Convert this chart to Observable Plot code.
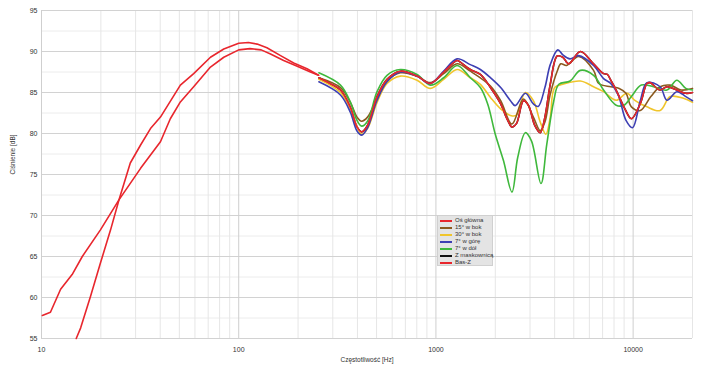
<!DOCTYPE html>
<html>
<head>
<meta charset="utf-8">
<script src="https://cdn.jsdelivr.net/npm/d3@7"></script>
<script src="https://cdn.jsdelivr.net/npm/@observablehq/plot@0.6"></script>
<style>
  html, body { margin: 0; padding: 0; background: #fff; }
  #wrap { position: relative; width: 708px; height: 372px; font-family: "Liberation Sans", Arial, sans-serif; }
  #legend { position: absolute; left: 437px; top: 215px; width: 56px; height: 51px; background: #e4e4e4; border: 1px solid #d0d0d0; box-sizing: border-box; padding: 1px 0 0 2px; }
  .row { position: relative; height: 7px; font-size: 6px; line-height: 7px; color: #333; white-space: nowrap; padding-left: 15px; }
  .sw { position: absolute; left: 0; top: 3px; width: 12px; height: 2px; }
</style>
</head>
<body>
<div id="wrap"></div>
<script>
// ---- series names & colours ----
const seriesNames = ["Oś główna", "15° w bok", "30° w bok", "7° w górę", "7° w dół", "Z maskownicą", "Bas-Z"];
const seriesColors = ["#e8262d", "#8b5a1f", "#f0c52b", "#3d3fb3", "#3fb83c", "#111111", "#e8262d"];

// ---- axis ticks ----
const xTicks = [10, 100, 1000, 10000];
const yTicks = [55, 60, 65, 70, 75, 80, 85, 90, 95];
const yMinor = [57.5, 62.5, 67.5, 72.5, 77.5, 82.5, 87.5, 92.5];
const xGridMinor = [20,30,40,50,60,70,80,90,200,300,400,500,600,700,800,900,2000,3000,4000,5000,6000,7000,8000,9000,20000];
const xGridMajor = [10, 100, 1000, 10000];

// ---- Bas-Z (low frequency, red) ----
const basF  = [10.1, 11.1, 12.5, 14.3, 16.1, 19.9, 24.7, 31.8, 40.1, 45, 50.6, 59.1, 71.9, 84, 100, 114, 130, 145, 169, 198, 231, 254];
const basDB = [57.8, 58.2, 61.0, 62.8, 65.0, 68.25, 71.9, 75.75, 79.0, 81.8, 83.85, 85.7, 88.1, 89.3, 90.2, 90.35, 90.2, 89.7, 88.9, 88.2, 87.5, 87.1];

// ---- Oś główna, low part ----
const mainLowF  = [15.0, 15.8, 17.7, 19.9, 22.4, 24.7, 28.2, 31.8, 35.7, 40.1, 50.6, 59.1, 71.9, 84, 100, 112, 124, 139, 163, 190, 222, 254];
const mainLowDB = [55, 56.3, 60.1, 64.2, 68.25, 71.9, 76.4, 78.6, 80.6, 82.0, 85.9, 87.3, 89.3, 90.3, 91.0, 91.1, 90.9, 90.45, 89.5, 88.6, 87.9, 87.1];

// ---- Oś główna, mid/high part ----
const mainF  = [255, 290, 328, 368, 398, 420, 450, 503, 565, 660, 802, 937, 1095, 1280, 1330, 1494, 1680, 1890, 2130, 2290, 2430, 2560, 2780, 2950, 3170, 3380, 3570, 3800, 4120, 4400, 4710, 5400, 6300, 7080, 7400, 7700, 8200, 9000, 9800, 10870, 11750, 12170, 13700, 14840, 16660, 18500, 20000];
const mainDB = [86.8, 86.1, 85.3, 83.2, 80.8, 80.2, 81.0, 84.5, 86.6, 87.6, 87.0, 86.1, 87.5, 88.9, 88.7, 87.8, 87.2, 85.6, 83.6, 81.8, 80.8, 81.2, 84.0, 83.4, 81.0, 80.1, 82.0, 86.0, 89.45, 89.3, 88.5, 90.0, 88.5, 87.3, 87.2, 86.5, 85.3, 83.2, 81.8, 83.65, 86.1, 86.2, 85.3, 85.7, 85.3, 84.9, 85.0];

// ---- 15° w bok (brown) ----
const side15F  = [255, 328, 368, 398, 420, 450, 503, 565, 660, 802, 937, 1095, 1280, 1494, 1890, 2130, 2430, 2780, 3120, 3380, 3570, 3800, 4120, 4300, 4600, 5300, 6300, 6700, 7700, 8500, 9200, 9800, 10870, 12300, 13700, 15400, 17500, 20000];
const side15DB = [86.8, 85.6, 83.8, 82.0, 81.5, 82.0, 84.3, 86.4, 87.4, 87.0, 86.2, 87.3, 88.5, 87.6, 85.8, 84.0, 81.15, 84.2, 82.0, 80.35, 81.4, 84.8, 87.6, 88.5, 88.3, 89.4, 87.7, 86.1, 85.7, 85.5, 84.9, 83.25, 82.8, 84.5, 85.7, 85.9, 85.3, 85.5];

// ---- 30° w bok (yellow) ----
const side30F  = [255, 328, 368, 398, 420, 450, 503, 565, 660, 802, 937, 1095, 1280, 1494, 1680, 1890, 2130, 2388, 2550, 2840, 3120, 3380, 3610, 3800, 4000, 4400, 5400, 6300, 7080, 8200, 9300, 10200, 11750, 13700, 15420, 18000, 20000];
const side30DB = [86.6, 85.0, 83.0, 80.8, 79.9, 80.6, 83.8, 86.1, 87.0, 86.5, 85.5, 86.6, 87.8, 86.8, 86.0, 84.4, 83.0, 82.2, 82.2, 85.0, 84.0, 81.4, 79.9, 82.0, 85.6, 86.0, 86.4, 85.7, 85.1, 84.05, 84.9, 84.05, 83.25, 82.8, 84.5, 84.3, 83.8];

// ---- 7° w górę (blue) ----
const upF  = [255, 328, 368, 398, 420, 450, 503, 565, 660, 802, 937, 1095, 1280, 1494, 1680, 1890, 2130, 2388, 2520, 2840, 3120, 3300, 3570, 3800, 4150, 4400, 4780, 5290, 6300, 7080, 7700, 8400, 9200, 9930, 10870, 11750, 13700, 14840, 16660, 18500, 20000];
const upDB = [86.3, 84.7, 82.6, 80.3, 79.8, 80.7, 84.05, 86.3, 87.5, 87.0, 86.1, 87.6, 89.1, 88.4, 87.8, 86.8, 85.6, 84.0, 83.4, 84.9, 83.6, 83.3, 85.6, 88.4, 90.2, 89.6, 89.1, 89.5, 88.3, 86.7, 86.1, 84.7, 81.6, 80.7, 84.0, 86.2, 85.7, 84.05, 85.1, 84.5, 84.0];

// ---- 7° w dół (green) ----
const downF  = [255, 328, 368, 398, 420, 450, 503, 565, 660, 802, 937, 1095, 1280, 1494, 1680, 1830, 2000, 2200, 2430, 2600, 2840, 3050, 3410, 3650, 3960, 4200, 4790, 5400, 6300, 7080, 8200, 9000, 9800, 11000, 12680, 14840, 16660, 18500, 20000];
const downDB = [87.4, 85.9, 83.85, 81.6, 80.9, 81.5, 85.1, 87.1, 87.8, 87.2, 85.9, 86.8, 88.3, 86.8, 85.6, 83.6, 79.9, 76.7, 72.85, 77.1, 80.1, 79.1, 73.9, 78.7, 84.0, 86.0, 86.4, 87.7, 87.1, 85.3, 83.45, 83.45, 84.5, 85.9, 85.7, 85.3, 86.5, 85.5, 85.3];

// ---- Z maskownicą (black, lies under the main-axis curve) ----
const grilleF  = mainF;
const grilleDB = mainDB;

const zip = (F, D) => F.map((f, i) => ({f, db: D[i]}));

const lineOpts = (color, curve) => ({x: "f", y: "db", stroke: color, strokeWidth: 1.6, curve});

const plot = Plot.plot({
  width: 708,
  height: 372,
  marginLeft: 41,
  marginRight: 16,
  marginTop: 10,
  marginBottom: 34,
  style: {fontFamily: "Liberation Sans, Arial, sans-serif", fontSize: "7px", color: "#333", background: "#fff"},
  x: {type: "log", domain: [10, 20000]},
  y: {domain: [55, 95]},
  marks: [
    Plot.ruleY(yMinor, {stroke: "#ececec", strokeWidth: 1}),
    Plot.ruleX(xGridMinor, {stroke: "#e6e6e6", strokeWidth: 1}),
    Plot.ruleY(yTicks, {stroke: "#d2d2d2", strokeWidth: 1}),
    Plot.ruleX(xGridMajor, {stroke: "#cfcfcf", strokeWidth: 1}),
    Plot.axisY({ticks: yTicks, tickSize: 0, tickPadding: 4, label: null, fontSize: 7}),
    Plot.axisX({ticks: xTicks, tickSize: 0, tickPadding: 9, label: null, tickFormat: d => String(d), fontSize: 7}),
    Plot.text(["Częstotliwość [Hz]"], {frameAnchor: "bottom", dy: 23, fontSize: 6.5, fill: "#333"}),
    Plot.text(["Ciśnienie [dB]"], {frameAnchor: "left", dx: -29, rotate: -90, fontSize: 6.5, fill: "#333"}),
    Plot.line(zip(grilleF, grilleDB), lineOpts(seriesColors[5], "catmull-rom")),
    Plot.line(zip(side30F, side30DB), lineOpts(seriesColors[2], "catmull-rom")),
    Plot.line(zip(side15F, side15DB), lineOpts(seriesColors[1], "catmull-rom")),
    Plot.line(zip(downF, downDB), lineOpts(seriesColors[4], "catmull-rom")),
    Plot.line(zip(upF, upDB), lineOpts(seriesColors[3], "catmull-rom")),
    Plot.line(zip(mainF, mainDB), lineOpts(seriesColors[0], "catmull-rom")),
    Plot.line(zip(basF, basDB), lineOpts(seriesColors[6], "linear")),
    Plot.line(zip(mainLowF, mainLowDB), lineOpts(seriesColors[0], "linear"))
  ]
});

const wrap = document.getElementById("wrap");
wrap.appendChild(plot);

const legend = document.createElement("div");
legend.id = "legend";
seriesNames.forEach((name, i) => {
  const row = document.createElement("div");
  row.className = "row";
  const sw = document.createElement("span");
  sw.className = "sw";
  sw.style.background = seriesColors[i];
  row.appendChild(sw);
  row.appendChild(document.createTextNode(name));
  legend.appendChild(row);
});
wrap.appendChild(legend);
</script>
</body>
</html>
